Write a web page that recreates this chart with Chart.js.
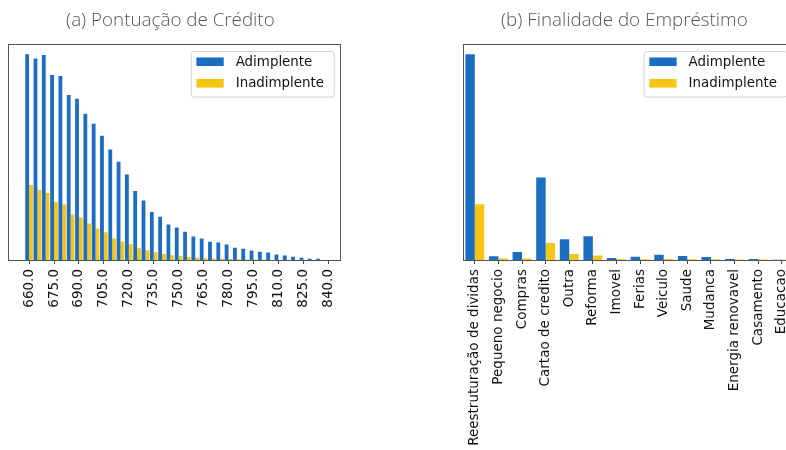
<!DOCTYPE html>
<html>
<head>
<meta charset="utf-8">
<script src="https://cdn.jsdelivr.net/npm/chart.js@4.4.1/dist/chart.umd.min.js"></script>
<style>
  html, body { margin: 0; padding: 0; background: #fff; overflow: hidden; width: 786px; height: 450px; }
  .panel { position: absolute; top: 0; height: 450px; }
  #p1 { left: 0; width: 350px; }
  #p2 { left: 455px; width: 345px; }
</style>
</head>
<body>
<div class="panel" id="p1"><canvas id="c1"></canvas></div>
<div class="panel" id="p2"><canvas id="c2"></canvas></div>
<script>
// Series shared by both panels
const seriesNames = ['Adimplente', 'Inadimplente'];
const seriesColors = ['#1b6ec2', '#f7c516'];

// (a) credit score bins, step 5
const scoreBins = [650, 655, 660, 665, 670, 675, 680, 685, 690, 695, 700, 705, 710, 715, 720, 725, 730, 735, 740, 745,
                   750, 755, 760, 765, 770, 775, 780, 785, 790, 795, 800, 805, 810, 815, 820, 825, 830, 835, 840, 845];
const scoreTickLabels = ['660.0', '675.0', '690.0', '705.0', '720.0', '735.0', '750.0', '765.0', '780.0', '795.0', '810.0', '825.0', '840.0'];
const scoreAdimplente = [null, null, 1029, 1008, 1025, 925, 920, 825, 806, 731, 681, 621, 553, 491, 428, 345, 298, 240, 216, 178,
                         162, 141, 118, 107, 91, 88, 77, 61, 56, 47, 41, 38, 28, 22, 16, 11, 6, 6, 0, 0];
const scoreInadimplente = [null, null, 375, 350, 335, 290, 277, 227, 212, 182, 157, 139, 107, 92, 79, 59, 49, 39, 30, 24,
                           20, 15, 12, 10, 8, 6, 5, 4, 3, 2, 2, 0, 0, 0, 0, 0, 0, 0, 0, 0];

// (b) loan purpose
const purposes = ['Reestruturação de dividas', 'Pequeno negocio', 'Compras', 'Cartao de credito', 'Outra', 'Reforma', 'Imovel',
                  'Ferias', 'Veiculo', 'Saude', 'Mudanca', 'Energia renovavel', 'Casamento', 'Educacao'];
const purposeAdimplente = [5138, 95, 200, 2063, 520, 590, 50, 80, 130, 100, 75, 28, 25, 8];
const purposeInadimplente = [1393, 40, 38, 423, 148, 115, 20, 20, 23, 20, 20, 13, 10, 5];

const titleA = '(a) Pontuação de Crédito';
const titleB = '(b) Finalidade do Empréstimo';

const labelFont = 'DejaVu Sans, "DejaVu Sans", "Bitstream Vera Sans", Verdana, sans-serif';

// Frame around the plot area plus a framed legend in the upper right corner
const axesFrame = {
  id: 'axesFrame',
  afterDraw(chart) {
    const { ctx, chartArea: a } = chart;
    ctx.save();
    ctx.strokeStyle = '#555';
    ctx.lineWidth = 1;
    ctx.strokeRect(Math.round(a.left) + 0.5, Math.round(a.top) + 0.5,
                   Math.round(a.right - a.left), Math.round(a.bottom - a.top));

    ctx.font = '13.4px ' + labelFont;
    const sets = chart.data.datasets;
    const padL = 5.7, handleW = 27.3, gap = 12;
    const w = 143, h = 45.6;
    const x0 = a.right - 7 - w, y0 = a.top + 7;
    ctx.beginPath();
    ctx.roundRect(x0 + 0.5, y0 + 0.5, w, h, 3);
    ctx.fillStyle = 'rgba(255,255,255,0.8)';
    ctx.fill();
    ctx.strokeStyle = '#d4d4d4';
    ctx.stroke();
    sets.forEach((d, i) => {
      const cy = y0 + 10.8 + i * 21.5;
      ctx.fillStyle = d.backgroundColor;
      ctx.fillRect(x0 + padL, cy - 4.3, handleW, 8.6);
      ctx.fillStyle = '#111';
      ctx.textBaseline = 'middle';
      ctx.textAlign = 'left';
      ctx.fillText(d.label, x0 + padL + handleW + gap, cy + 0.5);
    });
    ctx.restore();
  }
};

function makeChart(id, labels, a, b, title, catPct, leftGap, rightGap, tickFilter) {
  const ymax = Math.max(...a.concat(b).filter(v => v != null)) * 1.05;
  return new Chart(document.getElementById(id), {
    type: 'bar',
    data: {
      labels: labels,
      datasets: [
        { label: seriesNames[0], data: a, backgroundColor: seriesColors[0], categoryPercentage: catPct, barPercentage: 1 },
        { label: seriesNames[1], data: b, backgroundColor: seriesColors[1], categoryPercentage: catPct, barPercentage: 1 }
      ]
    },
    options: {
      responsive: true,
      maintainAspectRatio: false,
      devicePixelRatio: 1,
      animation: false,
      layout: { padding: { left: 0, right: rightGap, top: 0, bottom: 0 } },
      plugins: {
        legend: { display: false },
        tooltip: { enabled: false },
        title: {
          display: true,
          text: title,
          color: '#555',
          font: { family: '"Open Sans"', weight: 300, size: 18.8, lineHeight: 1.2 },
          padding: { top: 9, bottom: 12.4 }
        }
      },
      scales: {
        x: {
          type: 'category',
          offset: true,
          border: { display: false },
          grid: {
            display: true,
            drawOnChartArea: false,
            drawTicks: true,
            tickLength: 4,
            offset: false,
            lineWidth: 1,
            color: c => (c.tick && c.tick.label) ? '#444' : 'rgba(0,0,0,0)'
          },
          ticks: {
            autoSkip: false,
            minRotation: 90,
            maxRotation: 90,
            padding: 5,
            color: '#111',
            font: { family: labelFont, size: 13.5 },
            callback: function (v, i) { return tickFilter(this.getLabelForValue(v), i); }
          },
          afterFit: s => { s.height = 190; s.paddingLeft = 0; s.paddingRight = 0; }
        },
        y: {
          display: true,
          min: 0,
          max: ymax,
          border: { display: false },
          grid: { display: false },
          ticks: { display: false },
          afterFit: s => { s.width = leftGap; }
        }
      }
    },
    plugins: [axesFrame]
  });
}

makeChart('c1', scoreBins, scoreAdimplente, scoreInadimplente, titleA, 0.92, 8.3, 9.3,
          (lab) => { const t = Number(lab).toFixed(1); return scoreTickLabels.includes(t) ? t : ''; });

makeChart('c2', purposes, purposeAdimplente, purposeInadimplente, titleB, 0.8, 8, 6.4,
          (lab) => lab);
</script>
</body>
</html>
